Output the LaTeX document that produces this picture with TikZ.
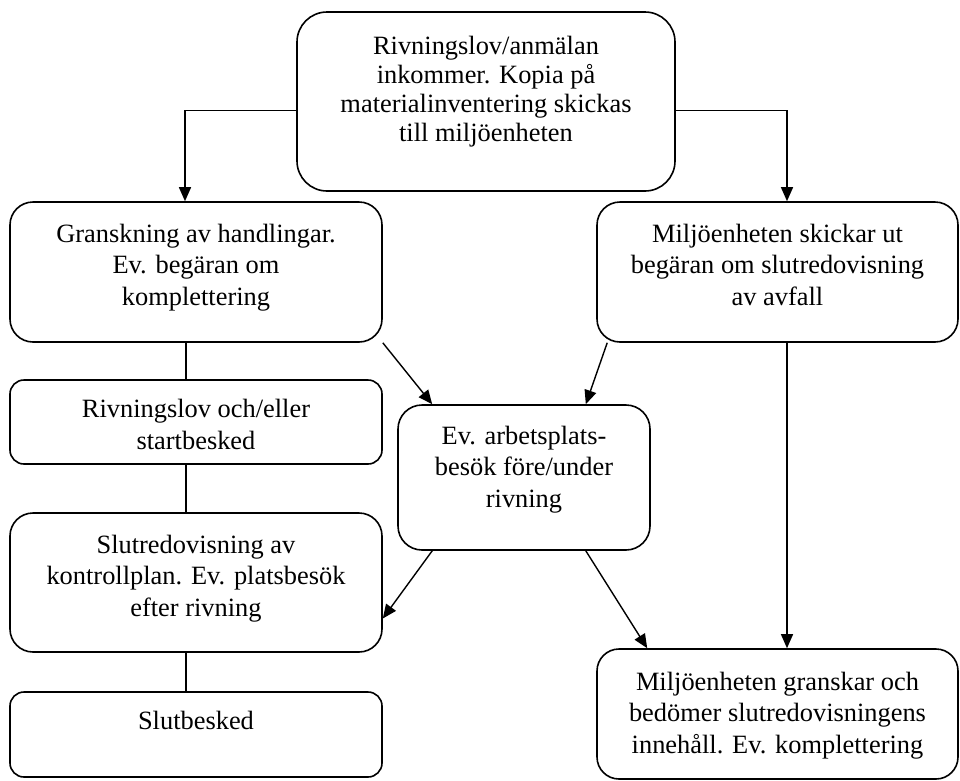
\documentclass[tikz,border=0pt]{standalone}
\usepackage{fontspec}
\setmainfont{Liberation Serif}
\usepackage{tikz}
\usetikzlibrary{arrows.meta}

\tikzset{
  box/.style={draw, line width=1.6pt, inner sep=0pt},
  txt/.style={anchor=base, align=center, inner sep=0pt, font=\fontsize{26.4}{31.5}\selectfont},
  arr/.style={line width=1.4pt, -{Triangle[length=14pt,width=12pt]}},
  lnk/.style={line width=1.4pt}
}

\begin{document}
\begin{tikzpicture}[x=1pt, y=-1pt]
\useasboundingbox (0,0) rectangle (960,780);

% boxes
\node[box, rounded corners=30pt, minimum width=378pt, minimum height=179pt] (top) at (486,101.5) {};
\node[box, rounded corners=23pt, minimum width=372pt, minimum height=140pt] (gransk) at (196,272) {};
\node[box, rounded corners=23pt, minimum width=361pt, minimum height=140pt] (skickar) at (777.5,272) {};
\node[box, rounded corners=14pt, minimum width=372pt, minimum height=84pt] (rivlov) at (196,422) {};
\node[box, rounded corners=24pt, minimum width=252pt, minimum height=145pt] (ev) at (524,477.5) {};
\node[box, rounded corners=23pt, minimum width=372pt, minimum height=139pt] (slutred) at (196,582.5) {};
\node[box, rounded corners=14pt, minimum width=372pt, minimum height=85pt] (slutbesk) at (196,734.5) {};
\node[box, rounded corners=22pt, minimum width=361pt, minimum height=130pt] (granskar) at (777.5,714) {};

% texts (base = last line)
\node[txt, font=\fontsize{26.4}{29}\selectfont] (top-t) at ([yshift=-130pt]top.north) {Rivningslov/anmälan\\inkommer. Kopia på\\materialinventering skickas\\till miljöenheten};
\node[txt] (gransk-t) at ([yshift=-104pt]gransk.north) {Granskning av handlingar.\\Ev. begäran om\\komplettering};
\node[txt] (skickar-t) at ([yshift=-104pt]skickar.north) {Miljöenheten skickar ut\\begäran om slutredovisning\\av avfall};
\node[txt] (rivlov-t) at ([yshift=-70pt]rivlov.north) {Rivningslov och/eller\\startbesked};
\node[txt] (ev-t) at ([yshift=-103pt]ev.north) {Ev. arbetsplats-\\besök före/under\\rivning};
\node[txt] (slutred-t) at ([yshift=-104pt]slutred.north) {Slutredovisning av\\kontrollplan. Ev. platsbesök\\efter rivning};
\node[txt] (slutbesk-t) at ([yshift=-38pt]slutbesk.north) {Slutbesked};
\node[txt] (granskar-t) at ([yshift=-105pt]granskar.north) {Miljöenheten granskar och\\bedömer slutredovisningens\\innehåll. Ev. komplettering};

% connectors
\draw[arr] ([yshift=-9pt]top.west) -| ([xshift=-11pt]gransk.north);
\draw[arr] ([yshift=-9pt]top.east) -| ([xshift=9.5pt]skickar.north);
\draw[lnk] ([xshift=-10pt]gransk.south) -- ([xshift=-10pt]rivlov.north);
\draw[lnk] ([xshift=-10pt]rivlov.south) -- ([xshift=-10pt]slutred.north);
\draw[lnk] ([xshift=-10pt]slutred.south) -- ([xshift=-10pt]slutbesk.north);
\draw[arr] (gransk.south east) -- ([xshift=35pt]ev.north west);
\draw[arr] ([xshift=11pt]skickar.south west) -- ([xshift=-65pt]ev.north east);
\draw[arr] ([xshift=35pt]ev.south west) -- ([yshift=-36pt]slutred.east);
\draw[arr] ([xshift=-65pt]ev.south east) -- ([xshift=51pt]granskar.north west);
\draw[arr] ([xshift=9.5pt]skickar.south) -- ([xshift=9.5pt]granskar.north);

\end{tikzpicture}
\end{document}
